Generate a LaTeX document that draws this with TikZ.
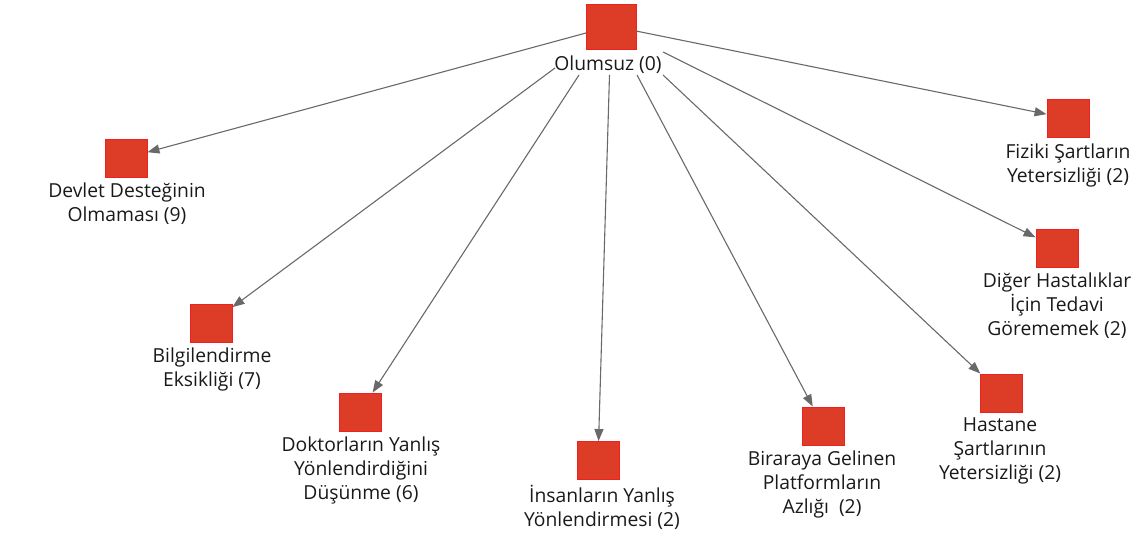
\documentclass[tikz,border=0pt]{standalone}
\usepackage{fontspec}
\setmainfont{Open Sans}
\usetikzlibrary{arrows.meta}
\definecolor{boxfill}{RGB}{221,60,38}
\definecolor{boxline}{RGB}{240,32,32}
\definecolor{linkgray}{RGB}{105,105,105}
\definecolor{txt}{RGB}{25,25,25}
\begin{document}
\begin{tikzpicture}[x=1pt,y=-1pt,
  sq/.style={draw=boxline,fill=boxfill,line width=0.9pt,minimum width=42pt,minimum height=38pt,inner sep=0pt},
  rootsq/.style={sq,minimum width=50pt,minimum height=45pt},
  lbl/.style={align=center,text=txt,font=\fontsize{19.3pt}{24pt}\selectfont,inner sep=0pt},
  link/.style={draw=linkgray,line width=1.1pt,-{Triangle[length=12pt,width=9pt]}}]
\useasboundingbox (0,0) rectangle (1146,537);

% root
\node[rootsq] (root) at (611,26.5) {};
\node[lbl] (rootl) at (608,65) {Olumsuz (0)};

% children
\node[sq] (devlet) at (126,158) {};
\node[lbl] (devletl) at (127,203.5) {Devlet Desteğinin\\Olmaması (9)};

\node[sq] (bilgi) at (211,323) {};
\node[lbl] (bilgil) at (212,369) {Bilgilendirme\\Eksikliği (7)};

\node[sq] (doktor) at (360,412) {};
\node[lbl] (doktorl) at (361,470.5) {Doktorların Yanlış\\Yönlendirdiğini\\Düşünme (6)};

\node[sq] (insan) at (598,460.5) {};
\node[lbl] (insanl) at (602,507) {İnsanların Yanlış\\Yönlendirmesi (2)};

\node[sq] (bira) at (823,426) {};
\node[lbl] (biral) at (822,484) {Biraraya Gelinen\\Platformların\\Azlığı~~(2)};

\node[sq] (hast) at (1001,393) {};
\node[lbl] (hastl) at (1000,451) {Hastane\\Şartlarının\\Yetersizliği (2)};

\node[sq] (diger) at (1057,248) {};
\node[lbl] (digerl) at (1057,306) {Diğer Hastalıklar\\İçin Tedavi\\Görememek (2)};

\node[sq] (fiz) at (1068,118.5) {};
\node[lbl] (fizl) at (1068,165) {Fiziki Şartların\\Yetersizliği (2)};

% points where the links leave the root group
\coordinate (s1) at (586,33);
\coordinate (s2) at (636,31);
\coordinate (s3) at (555,68);
\coordinate (s4) at (579,75);
\coordinate (s5) at (609.5,75);
\coordinate (s6) at (637,75);
\coordinate (s7) at (663,75);
\coordinate (s8) at (663,52);

\draw[link] (s1) -- (devlet);
\draw[link] (s2) -- (fiz);
\draw[link] (s3) -- (bilgi);
\draw[link] (s4) -- (doktor);
\draw[link] (s5) -- (insan);
\draw[link] (s6) -- (bira);
\draw[link] (s7) -- (hast);
\draw[link] (s8) -- (diger);
\end{tikzpicture}
\end{document}
